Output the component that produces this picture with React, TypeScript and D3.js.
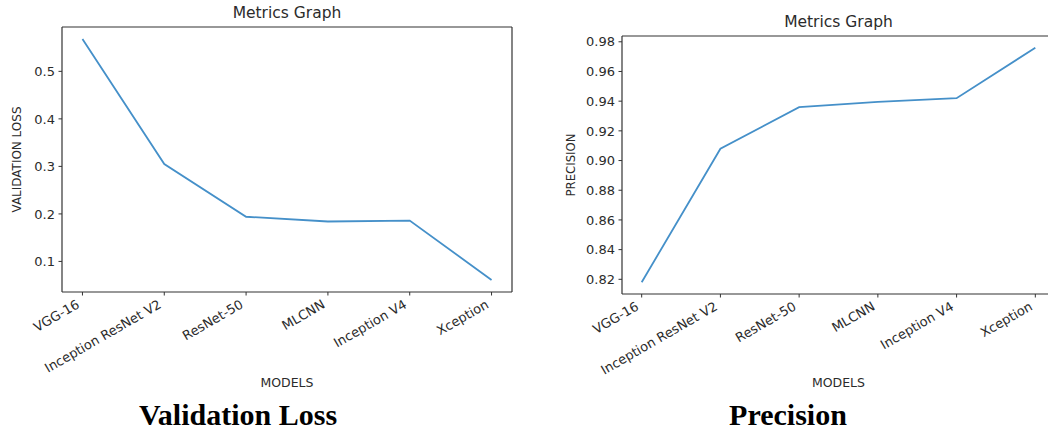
import React, { useRef, useEffect } from 'react';
import * as d3 from 'd3';

const models = ["VGG-16", "Inception ResNet V2", "ResNet-50", "MLCNN", "Inception V4", "Xception"];
const validationLoss = [0.568, 0.305, 0.194, 0.184, 0.186, 0.061];
const precision = [0.818, 0.908, 0.936, 0.9395, 0.942, 0.976];
const lossTicks = [0.1, 0.2, 0.3, 0.4, 0.5];
const precisionTicks = [0.82, 0.84, 0.86, 0.88, 0.90, 0.92, 0.94, 0.96, 0.98];

const panels = [
  {
    values: validationLoss, ticks: lossTicks, fmt: d3.format(".1f"),
    ylabel: "VALIDATION LOSS", ylabelLen: 106, caption: "Validation Loss",
    box: { left: 62, right: 512, top: 27, bottom: 292 },
    titleY: 18, ylabelX: 17, xlabelY: 387, captionX: 238, rightSpine: true,
  },
  {
    values: precision, ticks: precisionTicks, fmt: d3.format(".2f"),
    ylabel: "PRECISION", ylabelLen: 63, caption: "Precision",
    box: { left: 622, right: 1055, top: 36, bottom: 294 },
    titleY: 27, ylabelX: 571, xlabelY: 387, captionX: 788, rightSpine: false,
  },
];

const App = () => {
  const svgRef = useRef(null);

  useEffect(() => {
    const svg = d3.select(svgRef.current);
    svg.selectAll("*").remove();
    const font = "'DejaVu Sans', sans-serif";
    const ink = "#2b2b2b";

    panels.forEach(p => {
      const { box } = p;
      const g = svg.append("g");

      // matplotlib-style 5% autoscale margins
      const n = models.length;
      const x = d3.scaleLinear()
        .domain([-0.05 * (n - 1), (n - 1) * 1.05])
        .range([box.left, box.right]);
      const [lo, hi] = d3.extent(p.values);
      const pad = (hi - lo) * 0.05;
      const y = d3.scaleLinear()
        .domain([lo - pad, hi + pad])
        .range([box.bottom, box.top]);

      // line
      const line = d3.line<number>()
        .x((d, i) => x(i))
        .y(d => y(d));
      g.append("path")
        .datum(p.values)
        .attr("d", line)
        .attr("fill", "none")
        .attr("stroke", "#4590c9")
        .attr("stroke-width", 1.8);

      // spines
      const spine = (x1, y1, x2, y2) => g.append("line")
        .attr("x1", x1).attr("y1", y1).attr("x2", x2).attr("y2", y2)
        .attr("stroke", "#333").attr("stroke-width", 1.2);
      spine(box.left, box.top, box.left, box.bottom);
      spine(box.left, box.bottom, box.right, box.bottom);
      spine(box.left, box.top, box.right, box.top);
      if (p.rightSpine) spine(box.right, box.top, box.right, box.bottom);

      // y axis
      p.ticks.forEach(t => {
        const yy = y(t);
        g.append("line")
          .attr("x1", box.left - 3.5).attr("x2", box.left)
          .attr("y1", yy).attr("y2", yy)
          .attr("stroke", "#333");
        g.append("text")
          .attr("x", box.left - 7).attr("y", yy)
          .attr("dy", "0.36em")
          .attr("text-anchor", "end")
          .style("font-family", font).style("font-size", "13px").style("fill", ink)
          .text(p.fmt(t));
      });

      // x axis
      models.forEach((m, i) => {
        const xx = x(i);
        g.append("line")
          .attr("x1", xx).attr("x2", xx)
          .attr("y1", box.bottom).attr("y2", box.bottom + 3.5)
          .attr("stroke", "#333");
        g.append("text")
          .attr("transform", `translate(${xx - 2},${box.bottom + 15}) rotate(-30)`)
          .attr("text-anchor", "end")
          .style("font-family", font).style("font-size", "13px").style("fill", ink)
          .text(m);
      });

      // title
      g.append("text")
        .attr("x", (box.left + box.right) / 2).attr("y", p.titleY)
        .attr("text-anchor", "middle")
        .style("font-family", font).style("font-size", "15.5px").style("fill", ink)
        .text("Metrics Graph");

      // axis labels
      g.append("text")
        .attr("transform", `translate(${p.ylabelX},${(box.top + box.bottom) / 2}) rotate(-90)`)
        .attr("text-anchor", "middle")
        .attr("dy", "0.36em")
        .attr("textLength", p.ylabelLen)
        .attr("lengthAdjust", "spacingAndGlyphs")
        .style("font-family", font).style("font-size", "12px").style("fill", ink)
        .text(p.ylabel);
      g.append("text")
        .attr("x", (box.left + box.right) / 2).attr("y", p.xlabelY)
        .attr("text-anchor", "middle")
        .style("font-family", font).style("font-size", "12.5px").style("fill", ink)
        .text("MODELS");

      // caption
      g.append("text")
        .attr("x", p.captionX).attr("y", 425)
        .attr("text-anchor", "middle")
        .style("font-family", "'Liberation Serif', 'Times New Roman', serif")
        .style("font-size", "30px").style("font-weight", "bold").style("fill", "#000")
        .text(p.caption);
    });
  }, []);

  return (
    <svg
      ref={svgRef}
      width={1048}
      height={432}
      style={{ position: "absolute", left: 0, top: 0, background: "#fff", display: "block" }}
    />
  );
};

export default App;
